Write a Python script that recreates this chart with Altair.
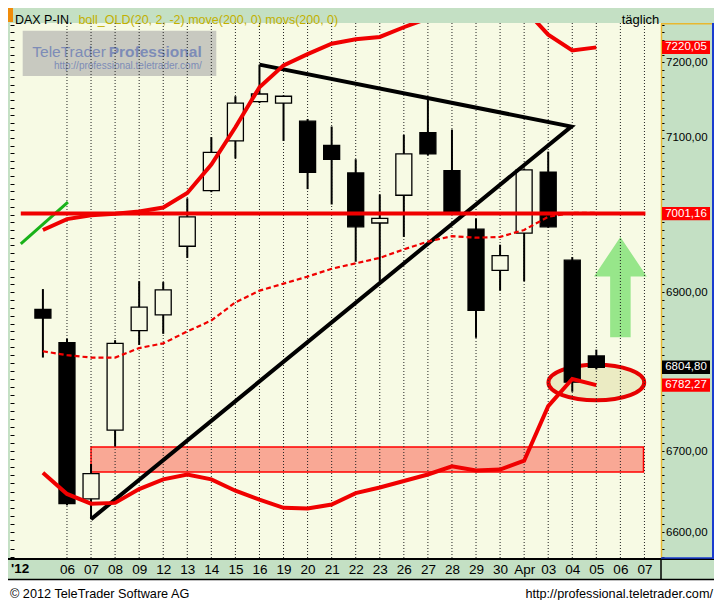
import altair as alt
import pandas as pd

# ---------------- data ----------------
dates = ["05", "06", "07", "08", "09", "12", "13", "14", "15", "16", "19", "20", "21",
         "22", "23", "26", "27", "28", "29", "30", "Apr", "03", "04", "05", "06", "07"]
opens = [6878, 6836, 6641, 6726, 6851, 6871, 6959, 7031, 7096, 7148, 7146, 7122, 7090,
         7054, 6989, 7025, 7107, 7057, 6981, 6928, 6976, 7055, 6941, 6819]
highs = [6904, 6841, 6684, 6839, 6914, 6913, 7021, 7101, 7155, 7197, 7156, 7125, 7115,
         7072, 7026, 7104, 7151, 7111, 6995, 6961, 7060, 7082, 6945, 6827]
lows = [6817, 6633, 6616, 6706, 6833, 6847, 6944, 7029, 7073, 7146, 7096, 7033, 7013,
        6939, 6914, 6971, 7077, 7000, 6842, 6902, 6914, 6983, 6774, 6802]
closes = [6867, 6635, 6672, 6835, 6881, 6903, 6997, 7081, 7146, 7158, 7155, 7055, 7072,
          6984, 6995, 7079, 7079, 7002, 6877, 6947, 7058, 6984, 6786, 6804.80]
boll_upper = [6980, 6994, 6999, 7001, 7004, 7009, 7028, 7065, 7114, 7167, 7196, 7211, 7225,
              7231, 7234, 7247, 7259, 7263, 7264, 7265, 7272, 7237, 7216, 7220.05]
boll_mid = [6825, 6820, 6817, 6817, 6829, 6835, 6850, 6864, 6887, 6902, 6911, 6920, 6930,
            6937, 6944, 6955, 6965, 6972, 6970, 6971, 6980, 6997, 7002, 7002]
boll_lower = [6673, 6647, 6635, 6636, 6653, 6665, 6671, 6665, 6651, 6640, 6630, 6629, 6634,
              6648, 6655, 6663, 6671, 6681, 6676, 6677, 6688, 6756, 6790, 6782.27]
level_values = [7220.05, 7001.16, 6804.80, 6782.27]
level_texts = ["7220,05", "7001,16", "6804,80", "6782,27"]
level_colors = ["#ff0000", "#ff0000", "#000000", "#ff0000"]
hline_i = [-0.92, 25.04]
hline_v = 7001.16
green_i = [-0.92, 1.04]
green_v = [6962, 7016]
tri_i = [2, 21.96, 9]
tri_v = [6616, 7115, 7197]
zone_i = [2, 24.96]
zone_v = [6674, 6705]
ellipse_at = (23, 6785.6)
arrow_at = (24, 6906.5)

# ---------------- layout / style ----------------
W, H = 651, 536
BG = "#f7fae4"
PANEL = "#c4e0c4"
FONT = "Liberation Sans"

xs = alt.Scale(domain=[-1.16, 25.48], nice=False, zero=False)
ys = alt.Scale(type="log", domain=[6567.4, 7252.7], nice=False, zero=False)

n = len(closes)
candles = pd.DataFrame({"i": list(range(n)), "o": opens, "h": highs, "l": lows, "c": closes})
bands = pd.DataFrame({"i": list(range(n)), "up": boll_upper, "mid": boll_mid, "lo": boll_lower})
grid = pd.DataFrame({"i": list(range(1, len(dates)))})
one = pd.DataFrame({"a": [0]})

X = lambda f="i": alt.X(f"{f}:Q", scale=xs, axis=None)
Y = lambda f: alt.Y(f"{f}:Q", scale=ys, axis=None)


def rect(x, x2, y, y2, color, **kw):
    return alt.Chart(one).mark_rect(color=color, **kw).encode(
        x=alt.value(x), x2=alt.value(x2), y=alt.value(y), y2=alt.value(y2))


def rule(x, x2, y, y2, color, w):
    return alt.Chart(one).mark_rule(color=color, strokeWidth=w).encode(
        x=alt.value(x), x2=alt.value(x2), y=alt.value(y), y2=alt.value(y2))


def txt(text, x, y, size, **kw):
    kw.setdefault("font", FONT)
    kw.setdefault("color", "black")
    return alt.Chart(one).mark_text(text=text, fontSize=size, **kw).encode(
        x=alt.value(x), y=alt.value(y))


layers = []

# frame decorations outside the plot area
layers += [
    rect(-2, 3, -15, -1, "#f08c0a"),
    rect(-2, 704, 557, 577, "white"),
    rule(-2, 704, 556.5, 556.5, "black", 1.5),
    rule(-2, 704, 536, 536, "black", 2),
    rule(651, 651, 536, 557, "black", 1.5),
    rule(651, 703, 0.7, 0.7, "#e8b830", 1.5),
    rule(703, 703, 0, 536, "#1a3cd0", 2),
    rule(651, 703, 535, 535, "#1a3cd0", 1.5),
]

# watermark
layers += [
    rect(12.7, 206.3, 7.7, 53.1, "#c8c9c0"),
    txt("TeleTrader", 95.8, 29.0, 15.5, align="right", color="#7d8cb7"),
    txt("Professional", 98.7, 29.0, 15.5, align="left", fontWeight="bold", color="#7d8cb7"),
    txt("http://professional.teletrader.com/", 117.8, 42.5, 10, align="center", color="#7d8cb7"),
]

# header & footer texts
layers += [
    txt("DAX P-IN.", 4.9, -3, 12.5, align="left"),
    txt("boll_OLD(20, 2, -2) move(200, 0) movs(200, 0)", 68.4, -3, 12.5, align="left", color="#c2b000"),
    txt("täglich", 630.5, -3, 13, align="center"),
    txt("'12", 1, 546, 13.5, align="left", baseline="middle", fontWeight="bold"),
    txt("© 2012 TeleTrader Software AG", 0, 571, 12.7, align="left"),
    txt("http://professional.teletrader.com/", 703, 571, 12.7, align="right"),
]

# support zone, ellipse, arrow
zone = pd.DataFrame({"i": [zone_i[0]], "i2": [zone_i[1]], "v": [zone_v[0]], "v2": [zone_v[1]]})
layers.append(alt.Chart(zone).mark_rect(fill="#f9a895", stroke="#ff0000", strokeWidth=1.5).encode(
    x=X(), x2="i2:Q", y=Y("v"), y2="v2:Q"))

ell = pd.DataFrame({"i": [ellipse_at[0]], "v": [ellipse_at[1]]})
layers.append(alt.Chart(ell).mark_point(
    shape="M -1 0 A 1 0.372 0 1 0 1 0 A 1 0.372 0 1 0 -1 0 Z", filled=True, size=9178,
    fill="#ebebc3", stroke="#e60000", strokeWidth=4, opacity=1).encode(x=X(), y=Y("v")))

arr = pd.DataFrame({"i": [arrow_at[0]], "v": [arrow_at[1]]})
layers.append(alt.Chart(arr).mark_point(
    shape="M 0 -1 L 0.526 -0.211 L 0.204 -0.211 L 0.204 1 L -0.204 1 L -0.204 -0.211 L -0.526 -0.211 Z",
    filled=True, size=10080, fill="#97e68a", strokeWidth=0, opacity=1).encode(x=X(), y=Y("v")))

# vertical dotted grid + x axis labels
label_expr = "[" + ",".join(f"'{d}'" for d in dates) + "][datum.value]"
layers.append(alt.Chart(grid).mark_rule(color="#222222", strokeWidth=1, strokeDash=[1, 2]).encode(
    x=alt.X("i:Q", scale=xs, axis=alt.Axis(
        values=list(range(1, len(dates))), labelExpr=label_expr, ticks=False, tickSize=0,
        grid=False, domain=False, labelPadding=10,
        labelBaseline="middle", labelFontSize=13.5, labelFont=FONT, labelColor="black",
        labelOverlap=False, labelFlush=False, title=None))))

# candles; right axis labels hidden where a value box covers them
hidden = [v for v in range(6600, 7300, 100) if any(abs(v - lv) < 12 for lv in level_values)]
hidden_expr = " && ".join(f"datum.value !== {v}" for v in hidden) or "true"
ytick_vals = list(range(6570, 7251, 10))
layers.append(alt.Chart(candles).mark_rule(color="black", strokeWidth=2).encode(
    x=X(), y=alt.Y("l:Q", scale=ys, axis=alt.Axis(
        orient="right", values=ytick_vals,
        labelExpr=f"datum.value % 100 === 0 && {hidden_expr} ? replace(format(datum.value, '.2f'), '.', ',') : ''",
        tickSize=3, tickColor="black", tickWidth=1, domainColor="#e8b830", domainWidth=1.5,
        labelFontSize=11.5, labelFont=FONT, labelColor="black", labelPadding=1.5,
        labelOverlap=False, labelBaseline="middle", grid=False, title=None)),
    y2="h:Q"))
layers.append(alt.Chart(candles).mark_bar(size=16, stroke="black", strokeWidth=1.3).encode(
    x=X(), y=alt.Y("o:Q", scale=ys, axis=alt.Axis(
        orient="left", values=ytick_vals, labels=False, domain=False, tickSize=4,
        tickColor="black", tickWidth=1, offset=-4, grid=False, title=None)),
    y2="c:Q",
    fill=alt.condition("datum.c >= datum.o", alt.value(BG), alt.value("black"))))

# triangle and green line
tri = pd.DataFrame({"i": tri_i, "v": tri_v, "k": list(range(len(tri_i)))})
layers.append(alt.Chart(tri).mark_line(color="black", strokeWidth=4, clip=True).encode(
    x=X(), y=Y("v"), order="k:Q"))
gl = pd.DataFrame({"i": green_i, "v": green_v})
layers.append(alt.Chart(gl).mark_line(color="#19b219", strokeWidth=3).encode(x=X(), y=Y("v")))

# bollinger bands
layers.append(alt.Chart(bands).mark_line(color="#f00000", strokeWidth=2.2, strokeDash=[5, 3]).encode(
    x=X(), y=Y("mid")))
layers.append(alt.Chart(bands).mark_line(color="#f00000", strokeWidth=4, clip=True).encode(
    x=X(), y=Y("up")))
layers.append(alt.Chart(bands).mark_line(color="#f00000", strokeWidth=4).encode(
    x=X(), y=Y("lo")))
hl = pd.DataFrame({"i": hline_i, "v": [hline_v, hline_v]})
layers.append(alt.Chart(hl).mark_line(color="#f00000", strokeWidth=4).encode(x=X(), y=Y("v")))

# boxed value labels on the right
lv = pd.DataFrame({"v": level_values, "t": level_texts, "col": level_colors})
layers.append(alt.Chart(lv).mark_point(
    shape="M -1 -0.28 L 1 -0.28 L 1 0.28 L -1 0.28 Z", filled=True, size=2304, opacity=1,
    strokeWidth=0).encode(x=alt.value(676), y=Y("v"), fill=alt.Fill("col:N", scale=None)))
layers.append(alt.Chart(lv).mark_text(color="white", fontSize=11.5, font=FONT, align="center",
                                      baseline="middle").encode(
    x=alt.value(676), y=Y("v"), text="t:N"))

chart = alt.layer(*layers).resolve_axis(x="independent", y="independent").properties(
    width=W, height=H,
    padding={"left": 2, "top": 15, "right": 53, "bottom": 41},
    autosize=alt.AutoSizeParams(type="none"),
    background=PANEL,
).configure_view(fill=BG, strokeWidth=0)

chart.save("out.html", embed_options={"renderer": "svg", "actions": False})
